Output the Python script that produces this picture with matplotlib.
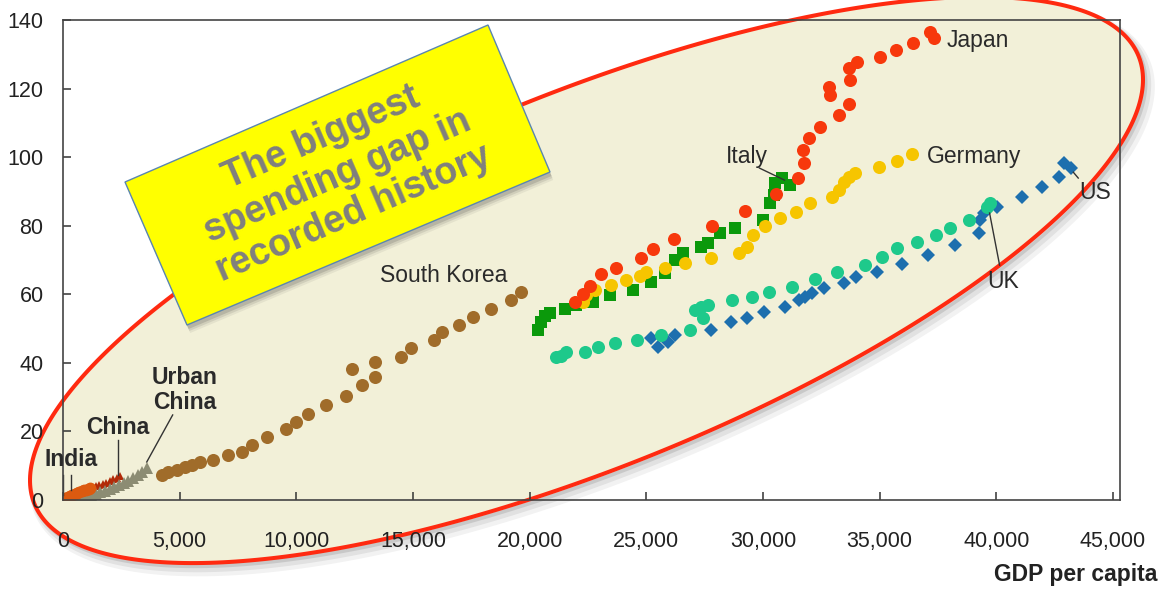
import numpy as np
import matplotlib
matplotlib.use("Agg")
import matplotlib.pyplot as plt
from matplotlib.patches import Polygon
from matplotlib.ticker import FuncFormatter

plt.rcParams['font.family'] = ['Liberation Sans', 'DejaVu Sans']

# GDP per capita (x) vs spending index (y), one pair of lists per country
japan_x = [21950, 22290, 22590, 23060, 23700, 24770, 25280, 26180, 27800, 29210, 30570, 31510, 31770, 31730,
           31980, 32450, 33260, 33690, 32880, 32840, 33730, 33690, 34030, 35010, 35700, 36420, 37150, 37320]
japan_y = [57.7, 60.1, 62.4, 65.9, 67.6, 70.6, 73.2, 76.1, 79.9, 84.3, 89.2, 93.9, 98.3, 102.0,
           105.5, 108.7, 112.2, 115.5, 118.1, 120.4, 122.4, 125.9, 127.7, 129.2, 131.2, 133.2, 136.4, 134.7]

italy_x = [20370, 20500, 20670, 20880, 21520, 21990, 22720, 23440, 24420, 25190, 25790, 26220, 26560, 27330,
           27630, 28140, 28820, 29980, 30320, 30490, 30530, 30830, 31170]
italy_y = [49.6, 51.9, 53.6, 54.5, 55.7, 56.9, 57.7, 59.8, 61.2, 63.6, 66.2, 70.0, 72.0, 73.8,
           74.9, 77.8, 79.3, 81.6, 86.6, 88.9, 92.4, 93.9, 91.8]

germany_x = [22290, 22420, 22800, 23490, 24130, 24720, 24980, 25790, 26650, 27760, 28990, 29330, 29550,
             30100, 30740, 31430, 32030, 32960, 33260, 33480, 33690, 33950, 34970, 35740, 36380]
germany_y = [57.7, 59.8, 61.2, 62.7, 64.1, 65.3, 66.5, 67.6, 69.1, 70.6, 72.0, 73.8, 77.3,
             79.9, 82.2, 84.0, 86.6, 88.3, 90.4, 92.7, 94.2, 95.3, 97.1, 98.8, 100.9]

uk_x = [21140, 21350, 21560, 22370, 22930, 23660, 24600, 25620, 26860, 27070, 27330, 27630, 27410, 28690,
        29510, 30270, 31260, 32240, 33180, 34370, 35100, 35740, 36590, 37410, 38000, 38810, 39580, 39710]
uk_y = [41.7, 42.0, 43.1, 43.1, 44.6, 45.8, 46.6, 48.1, 49.6, 55.4, 56.3, 56.9, 53.1, 58.3,
        59.2, 60.6, 62.1, 64.4, 66.5, 68.5, 70.8, 73.5, 75.2, 77.3, 79.3, 81.6, 85.4, 86.6]

us_x = [25190, 25490, 25920, 26220, 27760, 28610, 29330, 30060, 30960, 31560, 31810, 32110, 32620, 33480,
        33990, 34890, 35950, 37060, 38220, 39240, 39280, 39450, 40010, 41080, 41970, 42700, 42910, 43210]
us_y = [47.2, 44.6, 46.1, 48.1, 49.6, 51.9, 53.1, 54.8, 56.3, 58.3, 59.2, 60.3, 61.8, 63.3,
        65.0, 66.5, 68.8, 71.4, 74.3, 77.8, 81.6, 83.7, 85.4, 88.3, 91.3, 94.2, 98.3, 96.8]

korea_x = [4230, 4480, 4870, 5210, 5510, 5850, 6410, 7050, 7690, 8110, 8750, 9560, 9990, 10500, 11270,
           12130, 12380, 12810, 13370, 13370, 14480, 14900, 15880, 16230, 16950, 17590, 18360, 19220, 19640]
korea_y = [7.3, 8.2, 8.7, 9.6, 10.2, 11.1, 11.7, 13.1, 14.0, 16.0, 18.4, 20.7, 22.7, 25.1, 27.7,
           30.3, 38.2, 33.5, 35.9, 40.2, 41.7, 44.3, 46.6, 49.0, 51.0, 53.4, 55.7, 58.3, 60.6]

urban_china_x = [400, 600, 800, 1000, 1200, 1400, 1600, 1800, 2000, 2200, 2400, 2600, 2800, 3000,
                 3200, 3400, 3600]
urban_china_y = [0.2, 0.5, 0.7, 1.0, 1.4, 1.8, 2.2, 2.6, 3.2, 3.8, 4.4, 5.0, 5.6, 6.4,
                 7.3, 8.3, 9.3]

china_x = [200, 350, 500, 650, 800, 950, 1100, 1250, 1400, 1550, 1700, 1850, 2000, 2150, 2300, 2430]
china_y = [0.5, 1.0, 1.5, 1.9, 2.3, 2.7, 3.1, 3.5, 4.0, 4.3, 4.7, 5.1, 5.5, 6.0, 6.5, 7.0]

india_x = [100, 200, 300, 400, 500, 600, 700, 800, 900, 1000, 1100, 1150]
india_y = [0.6, 0.9, 1.2, 1.5, 1.8, 2.0, 2.3, 2.5, 2.8, 3.0, 3.3, 3.5]

x_ticks = [0, 5000, 10000, 15000, 20000, 25000, 30000, 35000, 40000, 45000]
y_ticks = [0, 20, 40, 60, 80, 100, 120, 140]

W, H = 1163, 591


def fpos(px, py):
    # pixel position (origin top-left) -> figure fraction
    return px / W, 1 - py / H


fig = plt.figure(figsize=(W / 100, H / 100), dpi=100)
fig.patch.set_facecolor('white')

ax = fig.add_axes([63 / W, 1 - 500 / H, (1120 - 63) / W, (500 - 20) / H])
ax.set_facecolor('none')

# big highlighted ellipse behind the data
t = np.linspace(0, 2 * np.pi, 400)
cx, cy, rx, slope, ry = 586.5, 280, 556.5, -0.36, 200
ex = cx + rx * np.cos(t)
ey = cy + slope * rx * np.cos(t) + ry * np.sin(t)
for off, lw, a in [(7, 9, 0.10), (5, 6, 0.15), (3, 3, 0.25)]:
    pts = [fpos(x + off * 0.8, y + off) for x, y in zip(ex, ey)]
    fig.add_artist(Polygon(pts, closed=True, fc='none', ec='#808080', lw=lw, alpha=a,
                           transform=fig.transFigure, zorder=-3))
ell = Polygon([fpos(x, y) for x, y in zip(ex, ey)], closed=True, fc='#f2f0d8', ec='#ff2a10',
              lw=2.9, transform=fig.transFigure, zorder=-1)
fig.add_artist(ell)

ms = dict(linestyle='none', markeredgewidth=0)
ax.plot(us_x, us_y, marker='D', markersize=6.8, color='#1d6fae', **ms)
ax.plot(uk_x, uk_y, marker='o', markersize=9.4, color='#1ec98b', **ms)
ax.plot(italy_x, italy_y, marker='s', markersize=9.0, color='#0b990b', **ms)
ax.plot(germany_x, germany_y, marker='o', markersize=9.4, color='#f6c500', **ms)
ax.plot(japan_x, japan_y, marker='o', markersize=9.4, color='#f7380c', **ms)
ax.plot(korea_x, korea_y, marker='o', markersize=9.4, color='#a06c2a', **ms)
ax.plot(china_x, china_y, marker='^', markersize=6, color='#b22a08', **ms)
ax.plot(urban_china_x, urban_china_y, marker='^', markersize=9, color='#8c8c73', **ms)
ax.plot(india_x, india_y, marker='o', markersize=8.5, color='#dc5a10', **ms)

ax.set_xlim(0, 45300)
ax.set_ylim(0, 140)
ax.set_xticks(x_ticks)
ax.set_yticks(y_ticks)
ax.xaxis.set_major_formatter(FuncFormatter(lambda v, p: f'{v:,.0f}'))
ax.tick_params(direction='in', length=6, width=1.1, color='#333333', labelsize=15.5,
               labelcolor='#222222')
ax.tick_params(axis='x', pad=22)
ax.tick_params(axis='y', pad=14)
for sp in ax.spines.values():
    sp.set_color('#444444')
    sp.set_linewidth(1.2)

lab = dict(fontsize=16.5, color='#2a2a2a')
ax.text(37870, 134, 'Japan', ha='left', va='center', **lab)
ax.text(37020, 100.3, 'Germany', ha='left', va='center', **lab)
ax.text(29330, 100.3, 'Italy', ha='center', va='center', **lab)
ax.text(43550, 89.8, 'US', ha='left', va='center', **lab)
ax.text(40270, 63.8, 'UK', ha='center', va='center', **lab)
ax.text(16310, 65.6, 'South Korea', ha='center', va='center', **lab)
ax.text(5210, 32.1, 'Urban\nChina', ha='center', va='center', fontweight='bold', linespacing=1.1, **lab)
ax.text(2350, 21, 'China', ha='center', va='center', fontweight='bold', **lab)
ax.text(340, 11.7, 'India', ha='center', va='center', fontweight='bold', **lab)

lk = dict(color='#333333', lw=1.0)
ax.plot([29850, 30920], [96.8, 93.3], **lk)
ax.plot([39710, 40140], [83.7, 68.5], **lk)
ax.plot([43300, 43510], [95.6, 93.9], **lk)
ax.plot([2350, 2350], [17.5, 7.3], **lk)
ax.plot([4700, 3590], [24.8, 11.1], **lk)
ax.plot([0, 0], [7.3, 1.5], **lk)
ax.plot([340, 340], [7.3, 2.9], **lk)

fig.text(1157 / W, 1 - 575 / H, 'GDP per capita', ha='right', va='center', fontsize=16.5,
         fontweight='bold', color='#222222')

# yellow callout box with drop shadow
box = [(125, 182), (488, 25), (550, 172), (187, 325)]
for off, a in [(8, 0.08), (6, 0.12), (4, 0.18)]:
    fig.add_artist(Polygon([fpos(x + off * 0.4, y + off) for x, y in box], closed=True,
                           fc='#404040', ec='none', alpha=a, transform=fig.transFigure, zorder=4))
fig.add_artist(Polygon([fpos(x, y) for x, y in box], closed=True, fc='#ffff00', ec='#5a86b0',
                       lw=1.0, transform=fig.transFigure, zorder=5))
bx, by = fpos(337.5, 176)
fig.text(bx, by, 'The biggest\nspending gap in\nrecorded history', rotation=23.4,
         rotation_mode='anchor', ha='center', va='center', multialignment='center',
         fontsize=27, fontweight='bold', color='#7f7f7f', linespacing=1.2, zorder=6)

fig.savefig('out.png', dpi=100)
